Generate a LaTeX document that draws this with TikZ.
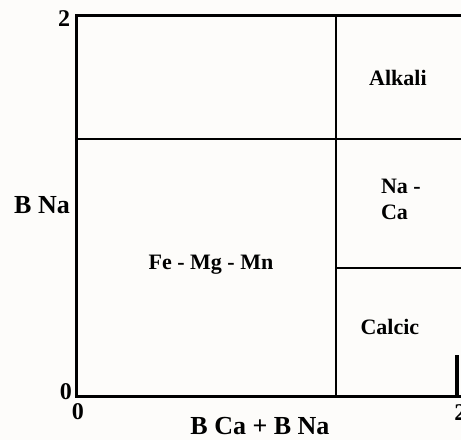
\documentclass[tikz,border=0pt]{standalone}
\usepackage{fontspec}
\setmainfont{Liberation Serif}
\usepackage{xcolor}
\usetikzlibrary{positioning,calc}
\definecolor{paper}{RGB}{253,252,250}

\begin{document}
\begin{tikzpicture}[
    x=190pt, y=190.5pt,
    field/.style={font=\bfseries\fontsize{22}{26}\selectfont, inner sep=0pt},
    axislabel/.style={font=\bfseries\fontsize{26}{30}\selectfont, inner sep=0pt},
    tick/.style={font=\bfseries\fontsize{24}{28}\selectfont, inner sep=0pt},
    border/.style={draw=black, line width=3pt},
    divider/.style={draw=black, line width=2.8pt}
]
    % ============ Canvas ============
    \fill[paper] (-0.405,-0.231) rectangle (2.021,2.079);
    \useasboundingbox (-0.405,-0.231) rectangle (2.021,2.079);

    % ============ Corners and frame ============
    \coordinate (origin) at (0,0);
    \coordinate (ytop) at (0,2);
    \coordinate (xend) at (2.03,0);
    \coordinate (topend) at (2.03,2);
    \draw[border] (topend) -- (ytop) -- (origin) -- (xend);
    \draw[black, line width=4.5pt] (2.0,0) -- (2.0,0.215);

    % ============ Field boundaries ============
    \coordinate (nabot) at (0,1.349);
    \coordinate (naend) at (2.03,1.349);
    \coordinate (vbot) at (1.363,0);
    \coordinate (vtop) at (1.363,2);
    \coordinate (cabeg) at (1.363,0.672);
    \coordinate (caend) at (2.03,0.672);
    \draw[divider] (nabot) -- (naend);
    \draw[divider] (vbot) -- (vtop);
    \draw[divider] (cabeg) -- (caend);

    % ============ Tick labels ============
    \node[tick] (ymax) at (-0.068,1.984) {2};
    \node[tick] (ymin) at (-0.058,0.026) {0};
    \node[tick] (xmin) at (0.005,-0.081) {0};
    \node[tick, anchor=west] (xmax) at (1.985,-0.084) {2};

    % ============ Axis labels ============
    \node[axislabel] (xlab) at (0.963,-0.158) {B Ca + B Na};
    \node[axislabel] (ylab) at (-0.184,1.003) {B Na};

    % ============ Fields ============
    \node[field] (femg) at (0.705,0.688) {Fe - Mg - Mn};
    \node[field] (alk) at (1.689,1.669) {Alkali};
    \node[field, align=left] (naca) at (1.705,1.034) {Na -\\Ca};
    \node[field] (calc) at (1.647,0.362) {Calcic};

\end{tikzpicture}
\end{document}
